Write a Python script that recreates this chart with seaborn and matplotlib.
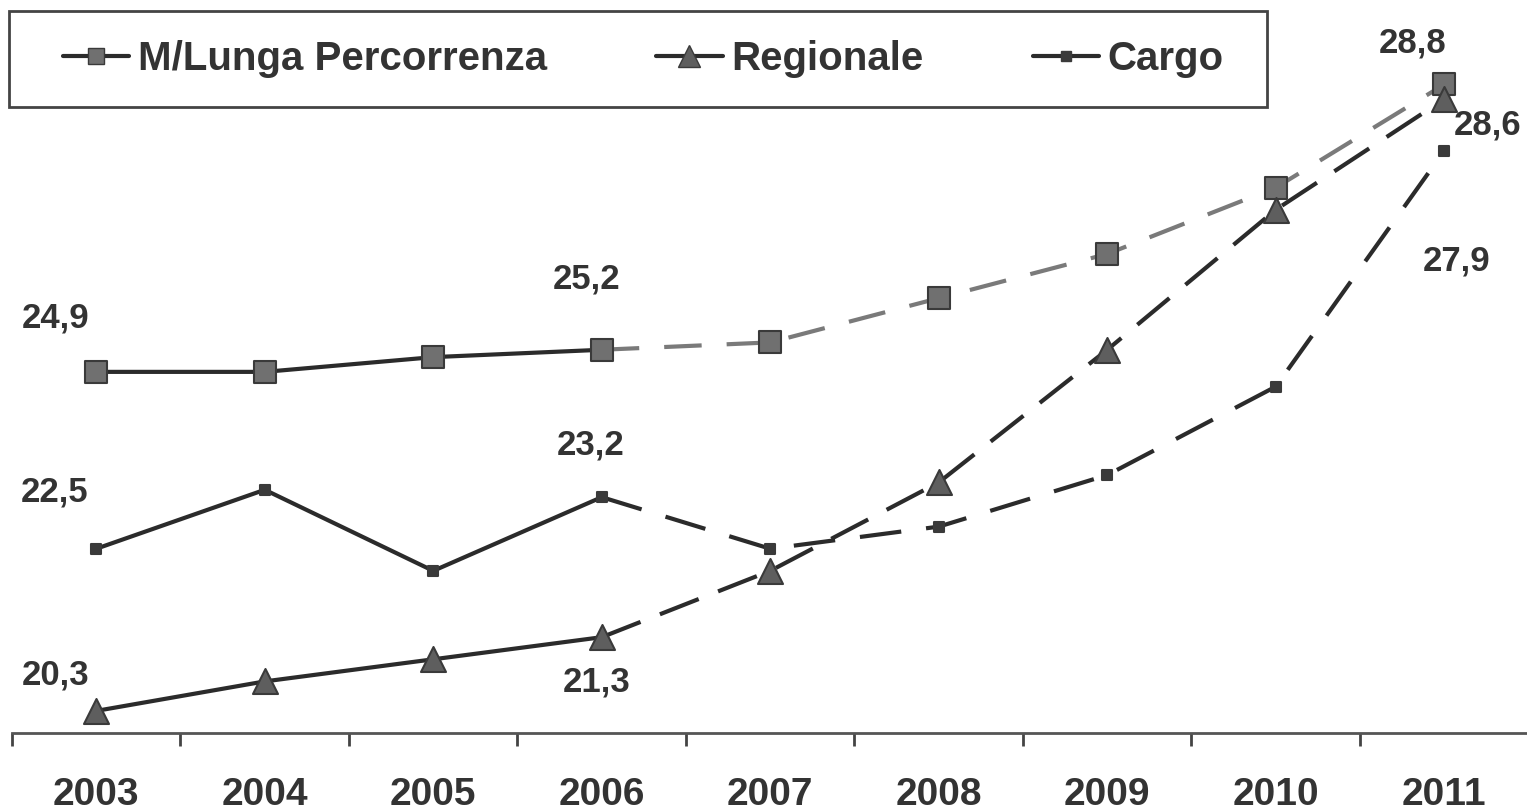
import matplotlib.pyplot as plt
import numpy as np
import seaborn as sns
from matplotlib.lines import Line2D
from matplotlib.patches import Rectangle

# data
anni = ["2003", "2004", "2005", "2006", "2007", "2008", "2009", "2010", "2011"]
lunga = [24.9, 24.9, 25.1, 25.2, 25.3, 25.9, 26.5, 27.4, 28.8]
regionale = [20.3, 20.7, 21.0, 21.3, 22.2, 23.4, 25.2, 27.1, 28.6]
cargo = [22.5, 23.3, 22.2, 23.2, 22.5, 22.8, 23.5, 24.7, 27.9]
nomi = ["M/Lunga Percorrenza", "Regionale", "Cargo"]

# solid part up to 2006, dashed afterwards
split = 3
idx = np.arange(len(anni))

sns.set_style("white")
plt.rcParams["font.family"] = ["Liberation Sans", "DejaVu Sans"]
plt.rcParams["font.weight"] = "bold"

dark = "#2b2b2b"
txt = "#333333"

fig = plt.figure(figsize=(15.27, 8.11), dpi=100)
ax = fig.add_axes([12 / 1527, 78 / 811, 1516.5 / 1527, 733 / 811])

stili = [
    # values, marker, size, face, dashed colour, dash pattern
    (lunga, "s", 16, "#707070", "#7a7a7a", (0, (9, 6))),
    (regionale, "^", 18, "#5e5e5e", dark, (0, (10, 5))),
    (cargo, "s", 6.5, "#3a3a3a", dark, (0, (10, 6))),
]

for vals, mk, ms, face, dcol, dash in stili:
    sns.lineplot(x=idx[split:], y=vals[split:], ax=ax, color=dcol, lw=3,
                 linestyle=dash, zorder=2)
    sns.lineplot(x=idx[:split + 1], y=vals[:split + 1], ax=ax, color=dark,
                 lw=3, zorder=2)
    sns.scatterplot(x=idx, y=vals, ax=ax, marker=mk, s=ms ** 2, color=face,
                    edgecolor="#3a3a3a", linewidth=1.5, zorder=3)

# value labels: (series, year index, offset in pixels)
etichette = [
    (lunga, 0, -41, 54), (cargo, 0, -42, 57), (regionale, 0, -41, 36),
    (lunga, 3, -15, 71), (cargo, 3, -11, 52), (regionale, 3, -5, -45),
    (lunga, 8, -32, 41), (regionale, 8, 43, -26), (cargo, 8, 12, -110),
]
for vals, i, dx, dy in etichette:
    ax.annotate(f"{vals[i]:.1f}".replace(".", ","), xy=(i, vals[i]),
                xytext=(dx, dy), textcoords="offset pixels",
                ha="center", va="center", fontsize=25, fontweight="bold",
                color=txt)

ax.set_xlim(-0.5, 8.5)
ax.set_ylim(20, 20 + 733 / 73.7)
ax.set_xticks(idx)
ax.set_xticklabels(anni, fontsize=28, fontweight="bold", color=txt)
ax.set_xticks(np.arange(-0.5, 9, 1), minor=True)
ax.tick_params(axis="x", which="major", length=0, pad=32)
ax.tick_params(axis="x", which="minor", length=9.5, width=2,
               direction="out", color="#444444", bottom=True)
ax.set_yticks([])
ax.set_xlabel("")
ax.set_ylabel("")
for s in ["left", "top", "right"]:
    ax.spines[s].set_visible(False)
ax.spines["bottom"].set_color("#555555")
ax.spines["bottom"].set_linewidth(2)

handles = [
    Line2D([], [], color=dark, lw=3, marker=m, markersize=ms,
           markerfacecolor=f, markeredgecolor="#3a3a3a")
    for _, m, ms, f, _, _ in stili
]
handles[0].set_markersize(12)
handles[1].set_markersize(16)
leg = fig.legend(handles, nomi, loc="center left", ncol=3,
                 bbox_to_anchor=(63 / 1527, 1 - 59 / 811),
                 fontsize=29, frameon=False, borderpad=0,
                 handlelength=1.65, handletextpad=0.22,
                 columnspacing=2.7, borderaxespad=0)
for t in leg.get_texts():
    t.set_color(txt)
    t.set_fontweight("bold")

# legend frame as in the original
fig.patches.append(Rectangle((9 / 1527, 1 - 107 / 811), 1258 / 1527, 96 / 811,
                             transform=fig.transFigure, fill=False,
                             edgecolor="#444444", lw=2, zorder=5))

fig.savefig("out.png", dpi=100, facecolor="white")
